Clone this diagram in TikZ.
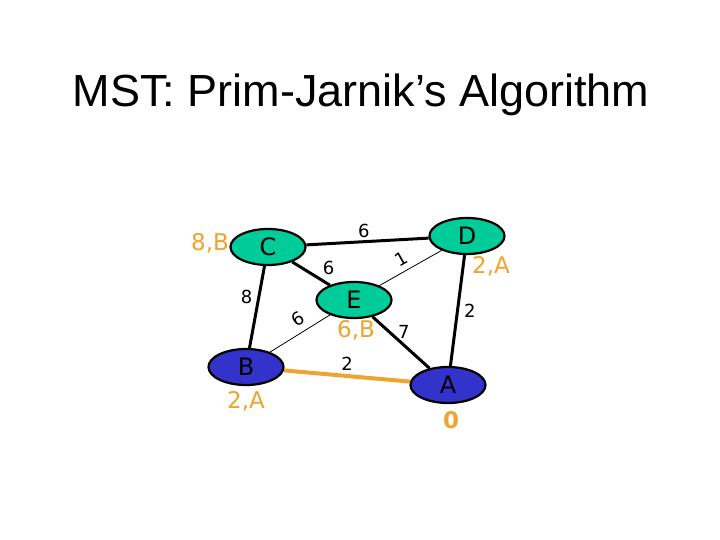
\documentclass[tikz,border=0pt]{standalone}
\usepackage{fontspec}
\setmainfont{DejaVu Sans}
\newfontfamily\titlefont{Liberation Sans}
\usetikzlibrary{positioning}
\usetikzlibrary{shapes.geometric}

\definecolor{vgreen}{RGB}{0,204,153}
\definecolor{vblue}{RGB}{51,51,204}
\definecolor{vorange}{RGB}{240,164,48}

\tikzset{
  vertex/.style={ellipse, draw=black, line width=2.2pt, minimum width=75pt, minimum height=36pt, inner sep=0pt, font=\fontsize{24}{24}\selectfont},
  fringe/.style={vertex, fill=vgreen},
  intree/.style={vertex, fill=vblue},
  tag/.style={text=vorange, font=\fontsize{23}{23}\selectfont, inner sep=0pt},
  weight/.style={text=black, font=\fontsize{18}{18}\selectfont, inner sep=2pt},
  heavy/.style={line width=3pt},
  light/.style={line width=0.8pt},
  chosen/.style={line width=4pt, vorange}
}

\begin{document}
\begin{tikzpicture}[x=1pt, y=-1pt]
\useasboundingbox[fill=white] (0,0) rectangle (720,540);
\node (title) at (361,95) {\titlefont\fontsize{45}{45}\selectfont MST: Prim-Jarnik’s Algorithm};

\node[fringe] (C) at (268,247) {C};
\node[intree] (B) at (246,367) {B};
\node[fringe] (E) at (354,300) {E};
\node[fringe] (D) at (467,236) {D};
\node[intree] (A) at (448,385) {A};

\draw[heavy] (C) -- node[weight, pos=0.47, above] {6} (D);
\draw[heavy] (C) -- node[weight, pos=0.72, above right] {6} (E);
\draw[heavy] (C) -- node[weight, pos=0.38, left=3pt] {8} (B);
\draw[light] (B) -- node[weight, pos=0.58, above=4pt, sloped] {6} (E);
\draw[light] (E) -- node[weight, pos=0.45, above=3pt, sloped] {1} (D);
\draw[heavy] (E) -- node[weight, pos=0.3, right=5pt] {7} (A);
\draw[heavy] (D) -- node[weight, pos=0.5, right=3pt] {2} (A);
\draw[chosen] (B) -- node[weight, pos=0.5, above=2pt] {2} (A);

\node[tag] (tC) at (210,243) {8,B};
\node[tag] (tB) at (246,401) {2,A};
\node[tag] (tE) at (356,330) {6,B};
\node[tag] (tD) at (491,266) {2,A};
\node[tag, font=\fontsize{23}{23}\selectfont\bfseries] (tA) at (451,420) {0};
\end{tikzpicture}
\end{document}
